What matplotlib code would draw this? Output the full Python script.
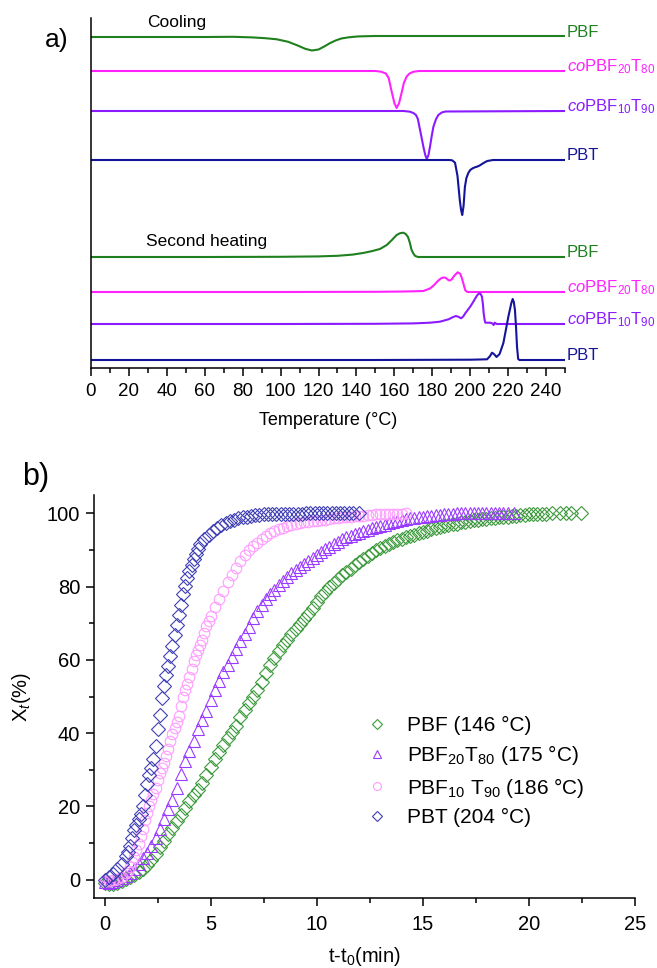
import matplotlib
matplotlib.use('Agg')
import matplotlib.pyplot as plt
from matplotlib.ticker import MultipleLocator

plt.rcParams['font.family'] = 'Liberation Sans'
plt.rcParams['mathtext.fontset'] = 'custom'
plt.rcParams['mathtext.rm'] = 'Liberation Sans'
plt.rcParams['mathtext.it'] = 'Liberation Sans:italic'
plt.rcParams['mathtext.bf'] = 'Liberation Sans:bold'

# ---- a) DSC traces: temperature (C) / heat flow relative to the trace baseline
cool_pbf_T = [0, 60, 75, 85, 92, 98, 104, 109, 113, 116.5, 120, 123, 126, 129, 132, 136, 141, 150, 250]
cool_pbf_hf = [0, 0, 0.2, -0.4, -1.2, -2.3, -4.8, -8.5, -11.8, -13.5, -12.5, -9.5, -6.2, -3.5, -1.5, -0.3, 0.6, 1, 1]

cool_co20_T = [0, 150, 153, 155.5, 157, 158.5, 160, 161.2, 162.5, 163.8, 165, 166.5, 168, 170, 173, 250]
cool_co20_hf = [0, 0, -0.7, -2.5, -7, -20, -32, -37, -32, -22, -12, -5.5, -2.5, -0.8, 0, 0]

cool_co10_T = [0, 165, 168.2, 170, 171.4, 172.4, 173.2, 174.3, 175.3, 176.3, 177.1, 178, 178.8, 179.7,
               180.6, 182, 183.2, 185, 187, 250]
cool_co10_hf = [0, 0, -0.7, -2, -4, -8, -15.7, -26, -35.7, -44, -48, -44, -35.7, -25, -15.7, -8, -4, -1.5, -0.5, 0]

cool_pbt_T = [0, 189, 190.5, 192, 193.3, 194.5, 195.2, 195.8, 196.5, 197.2, 198, 199, 200, 201.3, 202.5,
              203.6, 205, 206.2, 207.5, 209, 212, 250]
cool_pbt_hf = [0, 0, -0.3, -2.7, -16, -40, -50, -55, -46, -27, -18, -13, -10, -8.3, -7.3, -6.7, -5.5, -4,
               -2.5, -1, 0, 0]

heat_pbf_T = [0, 60, 100, 120, 130, 138, 143.5, 148, 152.4, 156, 158.7, 161.2, 163, 164.7, 166, 167.2,
              168.2, 169, 170, 171, 172.5, 250]
heat_pbf_hf = [0, 0, 0.2, 0.6, 1.2, 2.4, 4, 5.8, 8, 12, 17, 22, 23.8, 24.3, 23, 20, 14, 7.5, 3.5, 1, 0, 0]

heat_co20_T = [0, 100, 150, 165, 172, 175.3, 178.8, 181, 182.4, 184, 184.9, 186, 186.9, 188, 188.6, 189.5,
               190.4, 191.3, 192.1, 193.4, 194.7, 195.5, 196.2, 196.9, 197.4, 198.5, 250]
heat_co20_hf = [0, 0, 0.2, 0.5, 0.8, 1, 3.5, 7, 10, 12.8, 14, 14.5, 14.3, 12.8, 11.7, 11.6, 13, 15.5, 17.3,
                19.7, 18.3, 14.5, 10, 5, 1.7, 0, 0]

heat_co10_T = [0, 100, 150, 170, 178.8, 184, 188.6, 191, 192.5, 194, 195.2, 196.3, 197.4, 198.7, 200, 201.4,
               202.7, 203.8, 204.8, 205.5, 206.2, 206.7, 207.1, 207.6, 208, 210.6, 211.7, 212.4, 212.9, 214, 250]
heat_co10_hf = [0, 0, 0.2, 0.6, 1.3, 2.3, 4.7, 7, 8, 7, 5.7, 7.5, 10.7, 14, 17.3, 21.5, 25.7, 29, 30.7, 30,
                27.3, 20, 10.7, 4, 1.3, 1.3, 0.5, -1, 1.3, 0, 0]

heat_pbt_T = [0, 150, 200, 205, 208.9, 210.5, 211.5, 212.5, 213.9, 215.5, 217.5, 219, 220.2, 220.9, 221.7,
              222.4, 223, 223.6, 224.2, 224.7, 225.3, 226, 250]
heat_pbt_hf = [0, 0, 0.3, 0.5, 0.7, 4, 7.3, 6, 3, 6, 17, 32, 44, 50, 57, 61, 58, 50, 32, 13, 1, 0, 0]

dsc_names = ['PBF', r'$\mathit{co}$PBF$_{20}$T$_{80}$', r'$\mathit{co}$PBF$_{10}$T$_{90}$', 'PBT']

# ---- b) relative crystallinity X_t (%) vs t - t0 (min)
t_pbf = [0, 0.2, 0.4, 0.6, 0.8, 1.0, 1.2, 1.4, 1.6, 1.8, 2.0, 2.2, 2.4, 2.6, 2.8, 3.0, 3.2, 3.4, 3.6, 3.8,
         4.0, 4.2, 4.4, 4.6, 4.8, 5.0, 5.2, 5.4, 5.6, 5.8, 6.0, 6.2, 6.4, 6.6, 6.8, 7.0, 7.2, 7.4, 7.6, 7.8,
         8.0, 8.2, 8.4, 8.6, 8.8, 9.0, 9.2, 9.4, 9.6, 9.8, 10.0, 10.2, 10.4, 10.6, 10.8, 11.0, 11.2, 11.4,
         11.6, 11.8, 12.0, 12.2, 12.4, 12.6, 12.8, 13.0, 13.2, 13.4, 13.6, 13.8, 14.0, 14.2, 14.4, 14.6, 14.8,
         15.0, 15.2, 15.4, 15.6, 15.8, 16.0, 16.2, 16.4, 16.6, 16.8, 17.0, 17.2, 17.4, 17.6, 17.8, 18.0, 18.2,
         18.4, 18.6, 18.8, 19.0, 19.2, 19.4, 19.6, 19.8, 20.0, 20.2, 20.4, 20.6, 20.8,
         21.1, 21.45, 21.75, 22.0, 22.45]
x_pbf = [-0.8, -1.3, -1.2, -0.8, -0.4, 0.1, 0.7, 1.3, 2.1, 2.9, 3.9, 5.3, 7.0, 8.8, 10.6, 12.4, 14.2, 16.0,
         17.7, 19.6, 21.4, 23.0, 24.6, 26.4, 28.6, 30.8, 33.0, 34.9, 36.8, 38.7, 40.3, 42.0, 44.3, 46.3, 48.1,
         49.9, 51.8, 53.9, 56.3, 58.5, 60.5, 62.3, 64.0, 65.5, 67.0, 68.5, 69.9, 71.2, 72.6, 74.2, 75.8, 77.3,
         78.6, 79.8, 80.9, 82.0, 83.1, 84.0, 84.9, 85.8, 86.7, 87.6, 88.4, 89.2, 89.9, 90.5, 91.1, 91.7, 92.2,
         92.7, 93.1, 93.5, 93.9, 94.2, 94.5, 94.9, 95.2, 95.6, 95.9, 96.3, 96.6, 96.8, 97.0, 97.2, 97.5, 97.7,
         97.9, 98.1, 98.3, 98.4, 98.5, 98.7, 98.8, 98.9, 99.0, 99.1, 99.2, 99.4, 99.5, 99.6, 99.7, 99.7, 99.8,
         99.8, 99.9,
         100, 100, 100, 100, 100]

t_pbf20 = [0, 0.2, 0.4, 0.6, 0.8, 1.0, 1.2, 1.4, 1.6, 1.8, 2.0, 2.2, 2.4, 2.6, 2.8, 3.0, 3.2, 3.4, 3.6, 3.8,
           4.0, 4.2, 4.4, 4.6, 4.8, 5.0, 5.2, 5.4, 5.6, 5.8, 6.0, 6.2, 6.4, 6.6, 6.8, 7.0, 7.2, 7.4, 7.6, 7.8,
           8.0, 8.2, 8.4, 8.6, 8.8, 9.0, 9.2, 9.4, 9.6, 9.8, 10.0, 10.2, 10.4, 10.6, 10.8, 11.0, 11.2, 11.4,
           11.6, 11.8, 12.0, 12.2, 12.4, 12.6, 12.8, 13.0, 13.2, 13.4, 13.6, 13.8, 14.0, 14.2, 14.4, 14.6,
           14.8, 15.0, 15.2, 15.4, 15.6, 15.8, 16.0, 16.2, 16.4, 16.6, 16.8, 17.0, 17.2, 17.4, 17.6, 17.8,
           18.0, 18.2, 18.4, 18.6, 18.8, 19.0, 19.3]
x_pbf20 = [-0.5, -0.9, -0.7, -0.2, 0.4, 1.0, 1.8, 2.9, 4.4, 5.9, 7.3, 9.1, 11.4, 13.8, 16.6, 19.4, 21.8,
           25.1, 28.9, 32.4, 35.0, 37.9, 41.0, 43.7, 46.0, 49.0, 51.8, 54.3, 56.6, 58.6, 60.7, 62.9, 65.2,
           67.1, 68.9, 71.3, 73.3, 75.1, 76.7, 78.0, 79.2, 80.4, 81.6, 82.7, 83.7, 84.6, 85.4, 86.1, 86.9,
           87.7, 88.5, 89.4, 90.2, 90.9, 91.6, 92.3, 92.9, 93.4, 93.9, 94.3, 94.7, 95.1, 95.5, 95.9, 96.3,
           96.6, 96.9, 97.3, 97.6, 97.9, 98.2, 98.4, 98.6, 98.8, 98.9, 99.1, 99.2, 99.4, 99.5, 99.6, 99.7,
           99.8, 99.9, 100.0, 100.0, 100.1, 100.1, 100.1, 100.1, 100.2, 100.2, 100.2, 100.2, 100.2, 100.2,
           100.2, 100.2]

t_pbf10 = [0, 0.2, 0.4, 0.6, 0.8, 1.0, 1.1, 1.2, 1.3, 1.4, 1.5, 1.6, 1.7, 1.8, 1.9, 2.0, 2.1, 2.2, 2.3, 2.4,
           2.5, 2.6, 2.7, 2.8, 2.9, 3.0, 3.1, 3.2, 3.3, 3.4, 3.5, 3.6, 3.7, 3.8, 3.9, 4.0, 4.1, 4.2, 4.3, 4.4,
           4.5, 4.6, 4.7, 4.8, 4.9, 5.0, 5.2, 5.4, 5.6, 5.8, 6.0, 6.2, 6.4, 6.6, 6.8, 7.0, 7.2, 7.4, 7.6, 7.8,
           8.0, 8.2, 8.4, 8.6, 8.8, 9.0, 9.2, 9.4, 9.6, 9.8, 10.0, 10.2, 10.4, 10.6, 10.8, 11.0, 11.2, 11.4,
           11.6, 11.8, 12.0, 12.2, 12.4, 12.6, 12.8, 13.0, 13.2, 13.4, 13.6, 13.8, 14.0, 14.2]
x_pbf10 = [-0.4, -0.3, -0.1, 0.3, 0.8, 1.7, 2.4, 3.4, 4.8, 6.3, 8.0, 9.8, 11.8, 13.8, 16.2, 18.2, 20.0,
           21.7, 23.3, 25.0, 27.3, 29.2, 30.6, 31.8, 33.8, 35.8, 37.8, 39.7, 41.5, 43.0, 44.8, 47.3, 49.8,
           51.8, 53.4, 55.2, 57.5, 59.7, 61.4, 62.8, 64.0, 65.5, 67.2, 69.2, 70.6, 71.9, 74.3, 76.5, 78.8,
           81.2, 83.2, 85.2, 86.9, 88.5, 89.9, 91.0, 92.0, 93.0, 93.8, 94.6, 95.3, 95.7, 96.1, 96.5, 96.8,
           97.1, 97.3, 97.5, 97.7, 97.8, 98.0, 98.1, 98.3, 98.4, 98.6, 98.7, 98.9, 99.0, 99.1, 99.2, 99.3,
           99.4, 99.5, 99.6, 99.7, 99.7, 99.8, 99.8, 99.9, 99.9, 99.9, 100]

t_pbt = [0, 0.2, 0.4, 0.6, 0.8, 1.0, 1.1, 1.2, 1.3, 1.4, 1.5, 1.6, 1.7, 1.8, 1.9, 2.0, 2.1, 2.2, 2.3, 2.4,
         2.5, 2.6, 2.7, 2.8, 2.9, 3.0, 3.1, 3.2, 3.3, 3.4, 3.5, 3.6, 3.7, 3.8, 3.9, 4.0, 4.1, 4.2, 4.3, 4.4,
         4.5, 4.7, 4.9, 5.1, 5.3, 5.5, 5.7, 5.9, 6.1, 6.3, 6.5, 6.7, 6.9, 7.1, 7.3, 7.5, 7.7, 7.9, 8.1, 8.3,
         8.5, 8.7, 8.9, 9.1, 9.3, 9.5, 9.7, 9.9, 10.1, 10.3, 10.5, 10.7, 10.9, 11.1, 11.3, 11.5, 11.7, 12.0]
x_pbt = [0, 0.6, 1.5, 2.8, 4.4, 6.5, 7.6, 9.2, 11.5, 13.5, 15.0, 16.6, 18.0, 20.0, 23.0, 26.0, 28.5, 30.5,
         33.0, 36.5, 41.0, 45.0, 49.5, 53.0, 55.8, 58.2, 61.0, 63.8, 66.7, 69.5, 72.3, 75.0, 78.0, 80.2,
         82.3, 84.2, 86.0, 87.6, 89.0, 90.3, 91.5, 93.0, 94.2, 95.2, 96.0, 96.8, 97.4, 97.9, 98.3, 98.6,
         98.9, 99.1, 99.3, 99.5, 99.6, 99.7, 99.7, 99.8, 99.8, 99.8, 99.9, 99.9, 99.9, 99.9, 99.9, 100, 100,
         100, 100, 100, 100, 100, 100, 100, 100, 100, 100, 100]

series_labels = ['PBF (146 °C)', 'PBF$_{20}$T$_{80}$ (175 °C)', 'PBF$_{10}$ T$_{90}$ (186 °C)', 'PBT (204 °C)']

fig = plt.figure(figsize=(6.57, 9.68), dpi=100)

# ---------------- panel a
ax1 = fig.add_axes([91 / 657, 1 - 368 / 968, 474 / 657, 350 / 968])
line_cols = ['#1e801e', '#ff22ff', '#8c1aff', '#14149a']
cool = [(cool_pbf_T, cool_pbf_hf), (cool_co20_T, cool_co20_hf), (cool_co10_T, cool_co10_hf), (cool_pbt_T, cool_pbt_hf)]
heat = [(heat_pbf_T, heat_pbf_hf), (heat_co20_T, heat_co20_hf), (heat_co10_T, heat_co10_hf), (heat_pbt_T, heat_pbt_hf)]
cool_off = [331, 297, 257, 208]
heat_off = [111, 76, 44, 8]
for traces, offs in [(cool, cool_off), (heat, heat_off)]:
    for (T, hf), off, col, name in zip(traces, offs, line_cols, dsc_names):
        ax1.plot(T, [off + v for v in hf], color=col, lw=1.5)
        ax1.text(250.8, off, name, color=col, fontsize=12, ha='left', va='baseline')

ax1.text(29.5, 346, 'Cooling', fontsize=12.5, va='center')
ax1.text(29, 127, 'Second heating', fontsize=12.5, va='center')
ax1.set_xlim(0, 250)
ax1.set_ylim(0, 350)
ax1.spines['top'].set_visible(False)
ax1.spines['right'].set_visible(False)
ax1.spines['left'].set_linewidth(1.1)
ax1.spines['bottom'].set_linewidth(1.1)
ax1.set_yticks([])
ax1.xaxis.set_major_locator(MultipleLocator(20))
ax1.xaxis.set_minor_locator(MultipleLocator(10))
ax1.tick_params(axis='x', which='major', direction='out', length=6, width=1.1, labelsize=13.5, pad=5)
ax1.tick_params(axis='x', which='minor', direction='out', length=3.5, width=1.1)
ax1.set_xlabel('Temperature (°C)', fontsize=13)
ax1.xaxis.set_label_coords(0.5, -0.125)
ax1.xaxis.label.set_va('top')
fig.text(45 / 657, 1 - 40 / 968, 'a)', fontsize=19, va='center')

# ---------------- panel b
ax2 = fig.add_axes([94 / 657, 1 - 898 / 968, 541 / 657, 403 / 968])
mk = [('D', '#3c9a3c', 7.3), ('^', '#9a3cff', 8), ('o', '#ff9cff', 7.6), ('D', '#4040b4', 7.3)]
data = [(t_pbf, x_pbf), (t_pbf20, x_pbf20), (t_pbf10, x_pbf10), (t_pbt, x_pbt)]
for (t, x), (m, c, s), lab in zip(data, mk, series_labels):
    ax2.plot(t, x, ls='none', marker=m, ms=s, mfc='none', mec=c, mew=0.8, label=lab)

ax2.set_xlim(-0.5, 25)
ax2.set_ylim(-5, 105)
ax2.spines['top'].set_visible(False)
ax2.spines['right'].set_visible(False)
ax2.spines['left'].set_linewidth(1.1)
ax2.spines['bottom'].set_linewidth(1.1)
ax2.xaxis.set_major_locator(MultipleLocator(5))
ax2.xaxis.set_minor_locator(MultipleLocator(2.5))
ax2.yaxis.set_major_locator(MultipleLocator(20))
ax2.yaxis.set_minor_locator(MultipleLocator(10))
ax2.tick_params(which='major', direction='out', length=6, width=1.1, labelsize=14.5)
ax2.tick_params(axis='x', which='major', pad=6)
ax2.tick_params(axis='y', which='major', pad=4)
ax2.tick_params(which='minor', direction='out', length=3.5, width=1.1)
ax2.set_xlabel('t-t$_0$(min)', fontsize=14.5)
ax2.xaxis.set_label_coords(0.5, -0.117)
ax2.set_ylabel('X$_t$(%)', fontsize=14.5)
ax2.yaxis.set_label_coords(-0.113, 0.5)
ax2.legend(loc='upper left', bbox_to_anchor=(0.504, 0.452), frameon=False, fontsize=15, borderpad=0,
           borderaxespad=0, handlelength=1.0, handletextpad=0.95, labelspacing=0.4, markerscale=0.75)
fig.text(22 / 657, 1 - 477 / 968, 'b)', fontsize=22, va='center')

plt.savefig('out.png', dpi=100)
